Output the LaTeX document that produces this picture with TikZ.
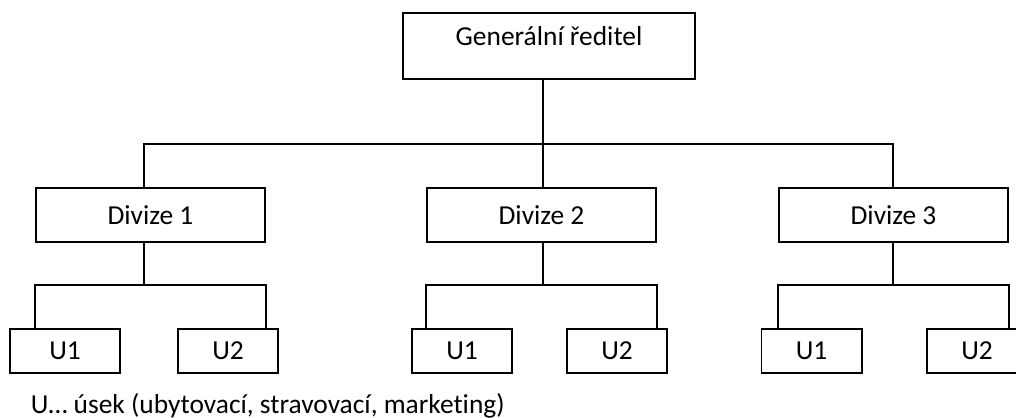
\documentclass[tikz,border=0pt]{standalone}
\usepackage{fontspec}
\setmainfont{Carlito}[Ligatures=NoCommon]
\begin{document}
\begin{tikzpicture}[x=0.025cm, y=-0.025cm, line width=1.4pt, font=\fontsize{19.5}{23}\selectfont,
  head node/.style={draw, rectangle, minimum width=292*0.025cm, inner ysep=0pt, text height=33*0.025cm, text depth=33*0.025cm},
  div node/.style={draw, rectangle, minimum width=229*0.025cm, minimum height=54*0.025cm, inner sep=0pt},
  unit node/.style={draw, rectangle, minimum width=100*0.025cm, minimum height=44*0.025cm, inner sep=0pt}]
\useasboundingbox (0,0) rectangle (1016,418);
\clip (0,0) rectangle (1016,418);
\node[head node] (gr) at (549,46) {Generální ředitel};
\node[div node] (d1) at (150.5,215) {Divize 1};
\node[div node] (d2) at (541.5,215) {Divize 2};
\node[div node] (d3) at (893.5,215) {Divize 3};
\node[unit node, minimum width=110*0.025cm] (u11) at (65,351) {U1};
\node[unit node] (u12) at (228,351) {U2};
\node[unit node] (u21) at (462,351) {U1};
\node[unit node] (u22) at (617,351) {U2};
\node[unit node] (u31) at (811.5,351) {U1};
\node[unit node] (u32) at (977,351) {U2};
\node[anchor=base west, inner sep=0pt] (note) at (30,413) {U… úsek (ubytovací, stravovací, marketing)};
% junctions
\coordinate (top) at (543,144);
\coordinate (j1) at (144,285);
\coordinate (j2) at (543,285);
\coordinate (j3) at (893,285);
% ředitel -> divize
\draw (gr.south -| top) -- (top);
\draw ([xshift=-6.5*0.025cm]d1.north) |- (top) -| (d3.north -| j3);
\draw (top) -- (d2.north -| top);
% divize -> useky
\draw (d1.south -| j1) -- (j1);
\draw (d1.west |- u11.north) |- (j1) -| (d1.east |- u12.north);
\draw (d2.south -| j2) -- (j2);
\draw (d2.west |- u21.north) |- (j2) -| (d2.east |- u22.north);
\draw (d3.south -| j3) -- (j3);
\draw (d3.west |- u31.north) |- (j3) -| (d3.east |- u32.north);
\end{tikzpicture}
\end{document}
